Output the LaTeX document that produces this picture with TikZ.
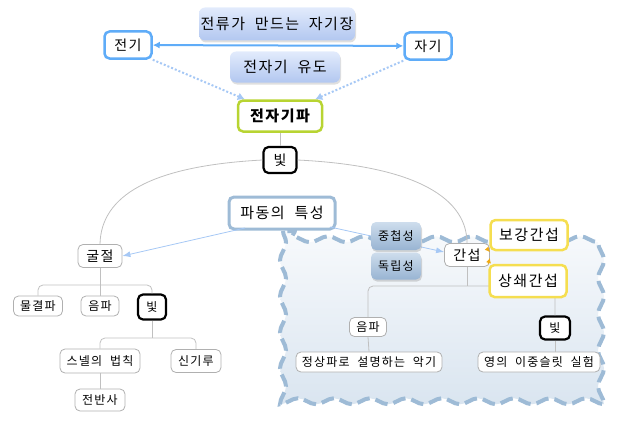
\documentclass[tikz,border=0pt]{standalone}
\usepackage{fontspec}
\setmainfont{Noto Sans CJK KR}[LetterSpace=10,WordSpace=2]
\usetikzlibrary{shapes,arrows.meta,positioning,shadows,decorations.pathmorphing}
\definecolor{elecblue}{RGB}{95,172,248}
\definecolor{dotblue}{RGB}{166,200,245}
\definecolor{limegreen}{RGB}{184,212,50}
\definecolor{steelline}{RGB}{158,187,214}
\definecolor{goldline}{RGB}{245,222,80}
\definecolor{treegray}{RGB}{192,192,192}
\definecolor{boxgray}{RGB}{176,176,176}
\definecolor{gradtop}{RGB}{226,235,252}
\definecolor{gradbot}{RGB}{178,199,240}
\definecolor{steeltop}{RGB}{206,221,237}
\definecolor{steelbot}{RGB}{152,180,210}
\definecolor{cloudtop}{RGB}{248,250,252}
\definecolor{cloudbot}{RGB}{218,229,240}
\definecolor{arrowgold}{RGB}{240,170,20}
\newcommand\bigtxt{\fontsize{15}{18}\selectfont}
\newcommand\midtxt{\fontsize{14}{17}\selectfont}
\newcommand\smalltxt{\fontsize{12}{14}\selectfont}

\begin{document}
\begin{tikzpicture}[x=1pt,y=-1pt,
    bluebox/.style={draw=elecblue, line width=2.5pt, fill=white, rounded corners=5pt, font=\midtxt, inner sep=0pt},
    gradbox/.style={top color=gradtop, bottom color=gradbot, rounded corners=6pt, font=\bigtxt, inner sep=0pt,
        drop shadow={opacity=0.25, shadow xshift=1pt, shadow yshift=-2pt}},
    steelbox/.style={top color=steeltop, bottom color=steelbot, rounded corners=5pt, font=\smalltxt, inner sep=0pt,
        drop shadow={opacity=0.3, shadow xshift=1pt, shadow yshift=-2pt}},
    greenbox/.style={draw=limegreen, line width=2.5pt, fill=white, rounded corners=5pt, font=\bigtxt\bfseries, inner sep=0pt},
    blackbox/.style={draw=black, line width=2.2pt, fill=white, rounded corners=5pt, inner sep=0pt},
    steelframe/.style={draw=steelline, line width=3pt, fill=white, rounded corners=5pt, font=\bigtxt, inner sep=0pt},
    goldbox/.style={draw=goldline, line width=2.5pt, fill=white, rounded corners=5pt, font=\bigtxt, inner sep=0pt},
    graybox/.style={draw=boxgray, line width=0.8pt, fill=white, rounded corners=5pt, inner sep=0pt},
    treeline/.style={draw=treegray, line width=0.8pt, rounded corners=5pt},
    thinarrow/.style={draw=dotblue, line width=0.8pt, -{Latex[length=8pt,width=6pt]}},
    dotline/.style={draw=dotblue, line width=2pt, dash pattern=on 2pt off 2pt, -{Latex[length=7pt,width=8pt]}},
    cloudline/.style={draw=steelline, line width=4pt, dash pattern=on 13pt off 6pt,
        decorate, decoration={snake, amplitude=3pt, segment length=36pt}}]
\useasboundingbox (0,0) rectangle (644,420);

% Background region
\draw[cloudline, top color=cloudtop, bottom color=cloudbot] (283,231) rectangle (619,387);

% Top part
\node[gradbox, minimum width=156pt, minimum height=33pt] (field) at (277,24) {전류가 만드는 자기장};
\node[gradbox, minimum width=110pt, minimum height=31pt] (induct) at (285,67) {전자기 유도};
\node[bluebox, minimum width=47pt, minimum height=27pt] (elec) at (128,45) {전기};
\node[bluebox, minimum width=47pt, minimum height=27pt] (magn) at (428,46) {자기};
\node[greenbox, minimum width=84pt, minimum height=31pt] (emw) at (280,116) {전자기파};
\node[blackbox, font=\midtxt, minimum width=33pt, minimum height=26pt] (lightA) at (280,160) {빛};
\node[steelframe, minimum width=106pt, minimum height=32pt] (wave) at (282,213) {파동의 특성};

% Left tree
\node[graybox, font=\midtxt, minimum width=44pt, minimum height=23pt] (refr) at (100,256) {굴절};
\node[graybox, font=\smalltxt, minimum width=49pt, minimum height=20pt] (water) at (38,306) {물결파};
\node[graybox, font=\smalltxt, minimum width=38pt, minimum height=20pt] (soundL) at (100,306) {음파};
\node[blackbox, font=\smalltxt, minimum width=28pt, minimum height=25pt] (lightL) at (152,307) {빛};
\node[graybox, font=\smalltxt, minimum width=80pt, minimum height=24pt] (snell) at (100,361) {스넬의 법칙};
\node[graybox, font=\smalltxt, minimum width=50pt, minimum height=23pt] (mirage) at (196,361) {신기루};
\node[graybox, font=\smalltxt, minimum width=50pt, minimum height=22pt] (total) at (100,400) {전반사};

% Right tree
\node[graybox, font=\midtxt, minimum width=45pt, minimum height=23pt] (interf) at (467,255) {간섭};
\node[graybox, font=\smalltxt, minimum width=37pt, minimum height=19pt] (soundR) at (368,327) {음파};
\node[graybox, font=\smalltxt, minimum width=146pt, minimum height=20pt] (standing) at (369,362) {정상파로 설명하는 악기};
\node[blackbox, font=\smalltxt, minimum width=30pt, minimum height=23pt] (lightR) at (555,328) {빛};
\node[graybox, font=\smalltxt, minimum width=122pt, minimum height=20pt] (young) at (539,362) {영의 이중슬릿 실험};

% Connectors
\draw[draw=elecblue, line width=2pt, {Latex[length=7pt,width=7pt]}-{Latex[length=7pt,width=7pt]}] (elec) -- (magn);
\draw[dotline] (elec.south east) -- ([xshift=8pt]emw.north west);
\draw[dotline] (magn.south west) -- ([xshift=-8pt]emw.north east);
\draw[treeline] (emw.south) -- (lightA.north);
\draw[treeline] (lightA.west) .. controls (150,166) and (101,196) .. (refr.north);
\draw[treeline] (lightA.east) .. controls (420,166) and (467,200) .. (interf.north);
\draw[thinarrow] (245,228) -- (refr.east);
\draw[thinarrow] (330,227) -- ([yshift=3pt]interf.west);

\coordinate (refrbus) at (100,285);
\draw[treeline] (refr.south) -- (soundL.north);
\draw[treeline] (water.north) |- (refrbus) -| (lightL.north);
\coordinate (lightbus) at (152,338);
\draw[treeline] (lightL.south) -- (lightbus);
\draw[treeline] (snell.north) |- (lightbus) -| (mirage.north);
\draw[treeline] (snell.south) -- (total.north);
\coordinate (interbus) at (467,286);
\draw[treeline] (interf.south) -- (interbus);
\draw[treeline] (soundR.north) |- (interbus) -| (lightR.north);
\draw[treeline] (soundR.south) -- (standing.north);
\draw[treeline] (lightR.south) -- (lightR.south |- young.north);

% Boxes over the lines
\node[steelbox, minimum width=50pt, minimum height=28pt] (superpos) at (396,236) {중첩성};
\node[steelbox, minimum width=50pt, minimum height=27pt] (indep) at (396,266) {독립성};
\node[goldbox, minimum width=77pt, minimum height=30pt] (strong) at (529,235) {보강간섭};
\node[goldbox, minimum width=77pt, minimum height=32pt] (destr) at (528,281) {상쇄간섭};
\draw[draw=arrowgold, line width=0.8pt, -{Latex[length=5pt,width=5pt]}] (strong.south west) -- ([yshift=3pt]interf.east);
\draw[draw=arrowgold, line width=0.8pt, -{Latex[length=5pt,width=5pt]}] (destr.north west) -- ([yshift=-3pt]interf.east);
\end{tikzpicture}
\end{document}
